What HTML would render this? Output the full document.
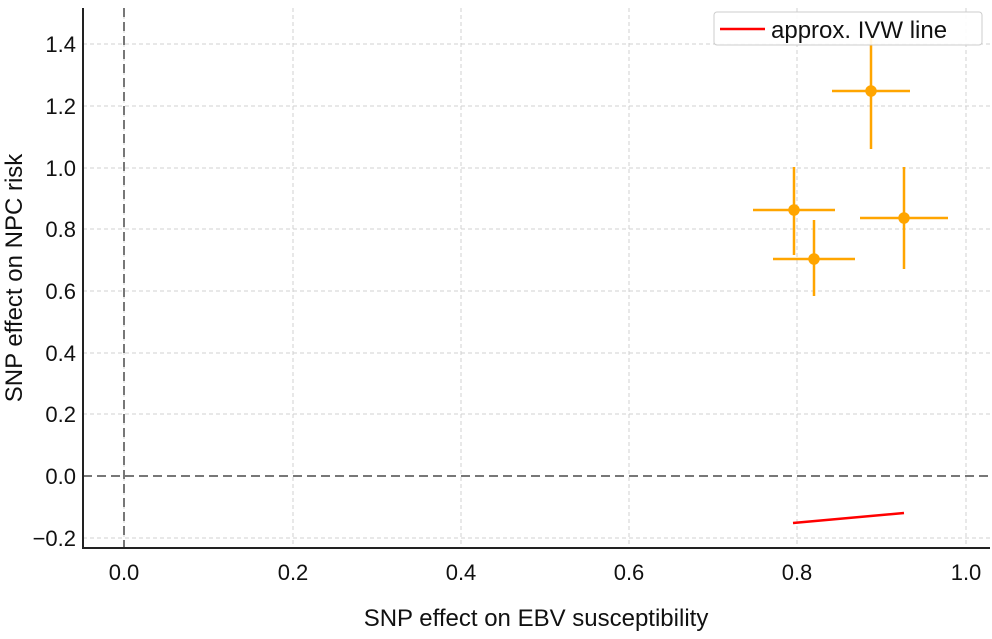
<!DOCTYPE html>
<html><head><style>body{margin:0;background:#fff}</style></head><body>
<svg width="992" height="634" xmlns="http://www.w3.org/2000/svg" font-family="Liberation Sans, DejaVu Sans, sans-serif">
<g stroke="#d0d0d0" stroke-width="1" stroke-dasharray="4,3">
<line x1="124" y1="8" x2="124" y2="548"/><line x1="293" y1="8" x2="293" y2="548"/><line x1="461" y1="8" x2="461" y2="548"/><line x1="629" y1="8" x2="629" y2="548"/><line x1="797" y1="8" x2="797" y2="548"/><line x1="966" y1="8" x2="966" y2="548"/>
<line x1="83" y1="44" x2="990" y2="44"/><line x1="83" y1="106" x2="990" y2="106"/><line x1="83" y1="168" x2="990" y2="168"/><line x1="83" y1="229" x2="990" y2="229"/><line x1="83" y1="291" x2="990" y2="291"/><line x1="83" y1="353" x2="990" y2="353"/><line x1="83" y1="414" x2="990" y2="414"/><line x1="83" y1="538" x2="990" y2="538"/>
</g>
<g stroke="#777" stroke-width="2" stroke-dasharray="9,5">
<line x1="83" y1="476" x2="990" y2="476"/><line x1="124" y1="8" x2="124" y2="548"/>
</g>
<g stroke="#222" stroke-width="2"><line x1="83" y1="8" x2="83" y2="549"/><line x1="82" y1="548" x2="990" y2="548"/></g>
<line x1="793" y1="523" x2="904" y2="513" stroke="#f00" stroke-width="2.5"/>
<g stroke="#ffa500" stroke-width="2.5" fill="#ffa500">
<line x1="753" y1="210" x2="835" y2="210"/><line x1="794" y1="167" x2="794" y2="255"/><circle cx="794" cy="210" r="4.5"/>
<line x1="773" y1="259" x2="855" y2="259"/><line x1="814" y1="220" x2="814" y2="296"/><circle cx="814" cy="259" r="4.5"/>
<line x1="832" y1="91" x2="910" y2="91"/><line x1="871" y1="38" x2="871" y2="149"/><circle cx="871" cy="91" r="4.5"/>
<line x1="860" y1="218" x2="948" y2="218"/><line x1="904" y1="167" x2="904" y2="269"/><circle cx="904" cy="218" r="4.5"/>
</g>
<rect x="714" y="12" width="268" height="33" rx="3" fill="#fff" fill-opacity="0.9" stroke="#ccc"/>
<line x1="720" y1="29" x2="765" y2="29" stroke="#f00" stroke-width="2.5"/>
<text x="771" y="38" font-size="24" fill="#111">approx. IVW line</text>
<g font-size="22" fill="#111" text-anchor="end">
<text x="76" y="52">1.4</text><text x="76" y="114">1.2</text><text x="76" y="176">1.0</text><text x="76" y="237">0.8</text><text x="76" y="299">0.6</text><text x="76" y="361">0.4</text><text x="76" y="422">0.2</text><text x="76" y="484">0.0</text><text x="76" y="546">−0.2</text>
</g>
<g font-size="22" fill="#111" text-anchor="middle">
<text x="124" y="580">0.0</text><text x="293" y="580">0.2</text><text x="461" y="580">0.4</text><text x="629" y="580">0.6</text><text x="797" y="580">0.8</text><text x="966" y="580">1.0</text>
<text x="536" y="626" font-size="24">SNP effect on EBV susceptibility</text>
<text transform="translate(22,278) rotate(-90)" font-size="24">SNP effect on NPC risk</text>
</g>
</svg>
</body></html>
